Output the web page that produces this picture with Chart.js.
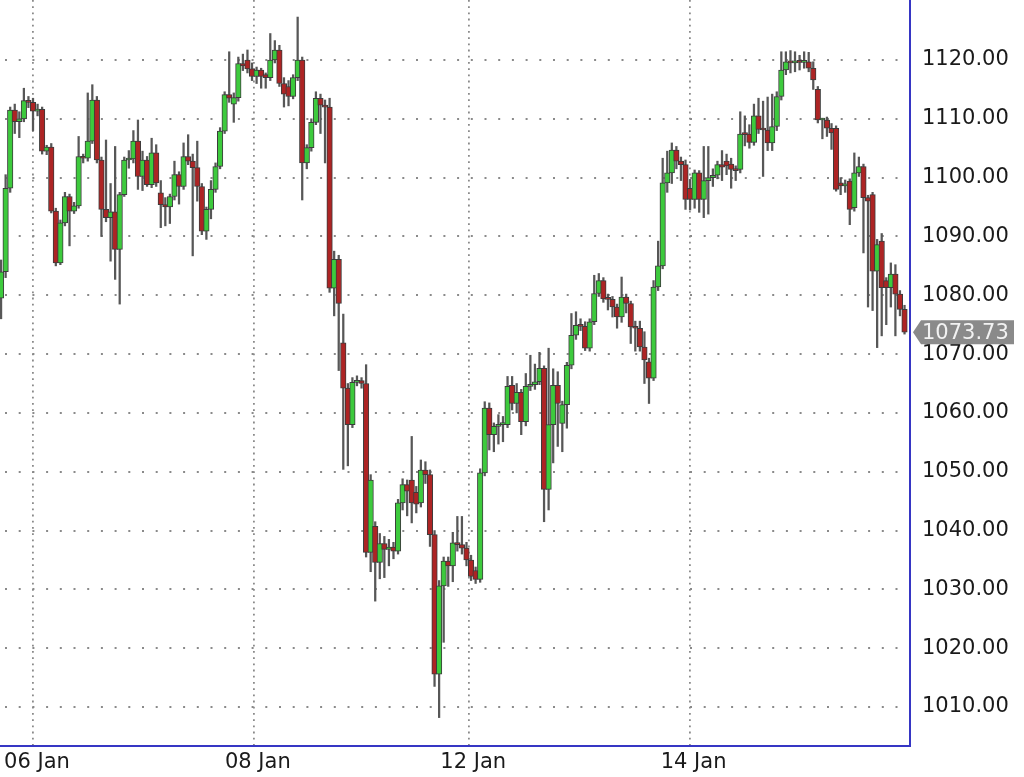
<!DOCTYPE html>
<html>
<head>
<meta charset="utf-8">
<script src="https://cdn.jsdelivr.net/npm/chart.js@4.4.1/dist/chart.umd.min.js"></script>
<style>
  html, body { margin: 0; padding: 0; background: #fff; overflow: hidden; }
  #wrap { position: relative; width: 1024px; height: 777px; }
</style>
</head>
<body>
<div id="wrap"><canvas id="chart"></canvas></div>
<script>
// Hourly candles (index 0 = first visible bar)
const openPrices = [
  1079.5, 1084, 1098.2, 1111.5, 1109.5, 1110, 1113.1, 1112.8, 1111.3, 1111.6,
  1104.5, 1105.2, 1094.3, 1085.5, 1092.3, 1096.8, 1094.3, 1095.2, 1103.6, 1103.3,
  1106.2, 1113.2, 1103, 1094.6, 1093.2, 1094.2, 1087.8, 1097.1, 1103, 1103.2,
  1106.2, 1100.2, 1103, 1098.8, 1104.2, 1097.4, 1095.4, 1095.0, 1096.8, 1100.5,
  1098.5, 1103.6, 1102.8, 1101.7, 1098.5, 1090.9, 1094.6, 1098, 1101.9, 1107.9,
  1114.1, 1112.5, 1113.6, 1119.4, 1120, 1118.5, 1117.2, 1118.3, 1117.5, 1117.0,
  1120, 1121.7, 1116, 1115.5, 1113.8, 1117, 1120, 1102.5, 1105.1, 1109.4,
  1113.5, 1112.3, 1112.0, 1081.2, 1086.1, 1071.9, 1064.2, 1058, 1065.2, 1065.5,
  1065, 1036.3, 1040.7, 1034.6, 1037.8, 1036.8, 1037.2, 1036.5, 1044.7, 1047.8,
  1048.6, 1046.5, 1044.7, 1050.3, 1049.5, 1039.3, 1015.6, 1030.6, 1034.8, 1034,
  1037.9, 1037.6, 1037, 1035, 1033.2, 1031.7, 1049.8, 1060.8, 1056.3, 1057.7,
  1058, 1058, 1064.7, 1061.6, 1063.5, 1058.5, 1064.5, 1064.8, 1065.3, 1067.6,
  1047, 1058, 1064.7, 1058.2, 1061.4, 1068.1, 1073.2, 1074.9, 1074.7, 1071,
  1075.5, 1080.3, 1082.5, 1079.4, 1079.3, 1078, 1076.3, 1079.7, 1078.6, 1074.6,
  1074.4, 1071.2, 1068.7, 1065.9, 1081.4, 1085, 1099.1, 1100.8, 1104.7, 1102.8,
  1102.2, 1098.2, 1096.3, 1100.8, 1096.3, 1099.5, 1100, 1100.4, 1102.2, 1102.8,
  1102.3, 1101.4, 1101.4, 1107.4, 1107.4, 1106, 1110.5, 1108.2, 1108.1, 1105.9,
  1108.7, 1113.8, 1118.3, 1119.7, 1119.5, 1119.8, 1119.6, 1119.7, 1118.6, 1115,
  1109.8, 1109.8, 1108.4, 1108.4, 1099.1, 1098.6, 1099.4, 1094.9, 1100.8, 1101.9,
  1096.6, 1097.1, 1084.1, 1089.2, 1082.5, 1081.3, 1083.6, 1080.2, 1077.6
];
const highPrices = [
  1086, 1100.5, 1112, 1112.5, 1111.2, 1115.2, 1113.8, 1113.5, 1112.5, 1112,
  1105.5, 1105.8, 1094.8, 1092.8, 1097.5, 1097.2, 1095.8, 1107, 1104, 1114.4,
  1115.8, 1113.8, 1103.5, 1106.4, 1099, 1105.3, 1097.5, 1103.5, 1104.6, 1108,
  1109.8, 1104.5, 1103.6, 1106.7, 1105.6, 1099.5, 1096.6, 1097.2, 1102.8, 1101,
  1105.9, 1107.3, 1104, 1106.2, 1099, 1095, 1099.5, 1102.5, 1108.5, 1114.6,
  1121.4, 1114.4, 1120.5, 1121, 1121.7, 1119.5, 1118.8, 1118.6, 1117.8, 1124.5,
  1123.3, 1122.5, 1117, 1116.5, 1117.5, 1127.3, 1120.5, 1105.6, 1110, 1114.6,
  1114.2, 1113.2, 1113.5, 1087.5, 1086.8, 1076.8, 1065, 1066, 1066.3, 1066,
  1068.2, 1049.5, 1041.5, 1039.5, 1039, 1038.5, 1038, 1045.3, 1048.8, 1048.6,
  1056, 1047.5, 1052, 1051.7, 1050.3, 1040, 1031.5, 1035.5, 1035.5, 1039.7,
  1042.4, 1042.4, 1038, 1035.8, 1033.8, 1050.5, 1061.9, 1061.7, 1058.3, 1059.7,
  1059.4, 1066.2, 1066.2, 1065, 1064, 1066.7, 1069.8, 1068.3, 1070.3, 1068,
  1071, 1067.5, 1067, 1062, 1068.6, 1076.9, 1077.2, 1076, 1075.5, 1076,
  1083.4, 1083.7, 1083, 1080.2, 1079.8, 1078.5, 1083.1, 1080.2, 1079, 1075.6,
  1075.6, 1073.8, 1069.3, 1082.5, 1089.2, 1103.3, 1104.5, 1105.9, 1105.3, 1103.5,
  1103, 1099.7, 1101.3, 1101.2, 1105.3, 1105.3, 1101.5, 1102.8, 1104.6, 1104,
  1103.3, 1102, 1111.2, 1110.5, 1109, 1112.5, 1113.5, 1113, 1113.7, 1114.2,
  1114.6, 1121.4, 1121.4, 1121.6, 1121.4, 1120.8, 1121.4, 1121.3, 1119.7, 1115.5,
  1110.1, 1110.3, 1109.2, 1108.8, 1100, 1099.6, 1099.8, 1104.2, 1103.5, 1102.3,
  1097, 1097.5, 1089.5, 1090.5, 1083, 1085.5, 1085.2, 1080.8, 1078.3
];
const lowPrices = [
  1076, 1083, 1097.5, 1107.5, 1106.8, 1109.5, 1111.9, 1108, 1110.5, 1104,
  1103.9, 1094, 1085, 1085.2, 1091.8, 1088.4, 1093.9, 1094.8, 1102.5, 1102.8,
  1105.8, 1102.5, 1090, 1092.5, 1085.8, 1082.7, 1078.5, 1096.8, 1101.6, 1102.5,
  1098, 1097.8, 1098.5, 1098.3, 1098.5, 1091.5, 1091.8, 1092.2, 1096.2, 1095.5,
  1098, 1102.2, 1086.7, 1096, 1090.3, 1089.5, 1093, 1097.5, 1101.5, 1107.5,
  1112.8, 1109.4, 1113, 1118.2, 1117.8, 1116.5, 1116, 1115.2, 1115.2, 1116.5,
  1119.5, 1115.5, 1112, 1112.2, 1113.4, 1116.5, 1096.2, 1101.5, 1104.5, 1109,
  1107.5, 1102.5, 1080.5, 1076.5, 1067.2, 1050.4, 1051, 1057.5, 1064.6, 1064.2,
  1035.5, 1033, 1028, 1031.8, 1032, 1034, 1035.2, 1036, 1043.5, 1042.5,
  1041.3, 1043, 1044, 1048, 1037.3, 1013.5, 1008.2, 1021, 1030.5, 1031.3,
  1036.5, 1036, 1034, 1031.5, 1031, 1031.2, 1049.3, 1053.7, 1053.4, 1054.7,
  1055.1, 1057.5, 1060.5, 1060, 1056.3, 1057.8, 1063.8, 1064, 1064.8, 1041.5,
  1043.5, 1051.5, 1054.3, 1053.4, 1057.4, 1067.5, 1072.5, 1074, 1070.6, 1070.5,
  1075, 1079.8, 1078.8, 1077.5, 1076.3, 1074.4, 1075.4, 1077, 1071.8, 1070.5,
  1070.5, 1065, 1061.6, 1065.5, 1080.8, 1084.5, 1097.5, 1099, 1101.5, 1099.5,
  1094.6, 1094.5, 1094.8, 1094.1, 1093.2, 1093.8, 1098.5, 1099.8, 1099.5, 1100.5,
  1098.2, 1099.5, 1100.8, 1105.4, 1105, 1105.5, 1107.5, 1100.2, 1104.6, 1104.6,
  1108, 1113.2, 1117.5, 1117.8, 1118, 1118.3, 1118.6, 1118, 1115, 1109.3,
  1106.6, 1107, 1104.8, 1097.7, 1097.1, 1097.5, 1092, 1094.3, 1100.2, 1087.2,
  1078, 1077.4, 1071.1, 1073.1, 1075, 1078, 1073.1, 1076.5, 1073.4
];
const closePrices = [
  1084, 1098.2, 1111.5, 1109.5, 1110, 1113.1, 1112.8, 1111.3, 1111.6, 1104.5,
  1105.2, 1094.3, 1085.5, 1092.3, 1096.8, 1094.3, 1095.2, 1103.6, 1103.3, 1106.2,
  1113.2, 1103, 1094.6, 1093.2, 1094.2, 1087.8, 1097.1, 1103, 1103.2, 1106.2,
  1100.2, 1103, 1098.8, 1104.2, 1099.1, 1095.4, 1095.0, 1096.8, 1100.5, 1098.5,
  1103.6, 1102.8, 1101.7, 1098.5, 1090.9, 1094.6, 1098, 1101.9, 1107.9, 1114.1,
  1113.5, 1113.6, 1119.4, 1119, 1118.5, 1117.2, 1118.3, 1117.2, 1117.0, 1120,
  1121.7, 1116, 1114.2, 1113.8, 1117, 1120, 1102.5, 1105.1, 1109.4, 1113.5,
  1112.3, 1112.0, 1081.2, 1086.1, 1078.6, 1064.2, 1058, 1065.2, 1065.5, 1065.0,
  1036.3, 1048.6, 1034.6, 1037.8, 1036.8, 1037.2, 1036.5, 1044.7, 1047.8, 1046.7,
  1044.7, 1044.5, 1050.3, 1049.5, 1039.3, 1015.6, 1030.6, 1034.8, 1034.0, 1037.9,
  1037.6, 1037, 1035, 1032.2, 1031.7, 1049.8, 1060.8, 1056.3, 1057.7, 1058,
  1058.2, 1064.5, 1061.6, 1063.5, 1058.5, 1064.5, 1064.8, 1065.3, 1067.6, 1047,
  1058, 1064.7, 1061.6, 1061.4, 1068.1, 1073.2, 1074.9, 1074.7, 1071, 1075.5,
  1080.3, 1082.5, 1079.4, 1079.3, 1078, 1076.3, 1079.7, 1078.6, 1074.6, 1074.4,
  1071.2, 1069, 1065.9, 1081.4, 1085, 1099.1, 1100.8, 1104.7, 1102.8, 1102.2,
  1096.3, 1096.3, 1100.8, 1096.3, 1099.5, 1100, 1100.4, 1102.2, 1101.8, 1102,
  1101.4, 1101.2, 1107.4, 1107.3, 1106, 1110.5, 1108.2, 1108.1, 1105.9, 1108.7,
  1113.8, 1118.3, 1119.7, 1119.5, 1119.8, 1119.6, 1119.7, 1118.6, 1116.6, 1109.8,
  1109.9, 1108.4, 1107.6, 1098, 1098.6, 1098.8, 1094.6, 1100.8, 1101.9, 1096.6,
  1096.0, 1084.1, 1088.6, 1081.3, 1081.3, 1083.6, 1080.2, 1077.6, 1073.73
];

// x axis: day boundaries (bar index) and their labels
const dayTickIdx = [7, 55.4, 102.6, 150.9];
const dayTickLabels = ['06 Jan', '08 Jan', '12 Jan', '14 Jan'];
// y axis ticks
const priceTicks = [1010, 1020, 1030, 1040, 1050, 1060, 1070, 1080, 1090, 1100, 1110, 1120];
const lastPrice = closePrices[closePrices.length - 1];

const UP = '#3dca3d';
const DOWN = '#ad2424';
const EDGE = '#3c3c3c';
const WICK = '#575757';
const AXIS_BLUE = '#3636c4';
const FONT = { family: 'DejaVu Sans', size: 21 };

const bodies = openPrices.map((o, i) => ({ x: i, y: [o, closePrices[i]] }));
const wicks = highPrices.map((h, i) => ({ x: i, y: [lowPrices[i], h] }));

// grey tag with the last price on the right axis
const lastPriceTag = {
  id: 'lastPriceTag',
  afterDraw(chart) {
    const { ctx, chartArea } = chart;
    const y = chart.scales.y.getPixelForValue(lastPrice);
    const x0 = chartArea.right + 3;
    const x1 = chart.width - 10;
    ctx.save();
    ctx.fillStyle = '#8a8a8a';
    ctx.beginPath();
    ctx.moveTo(x0, y);
    ctx.lineTo(x0 + 8, y - 12);
    ctx.lineTo(x1, y - 12);
    ctx.lineTo(x1, y + 12);
    ctx.lineTo(x0 + 8, y + 12);
    ctx.closePath();
    ctx.fill();
    ctx.fillStyle = '#f2f2f2';
    ctx.font = FONT.size + 'px ' + FONT.family;
    ctx.textBaseline = 'middle';
    ctx.textAlign = 'left';
    ctx.fillText(lastPrice.toFixed(2), chartArea.right + 12, y + 1);
    ctx.restore();
  }
};

new Chart(document.getElementById('chart'), {
  type: 'bar',
  data: {
    datasets: [
      {
        data: bodies,
        grouped: false,
        barThickness: 5.5,
        minBarLength: 2,
        borderWidth: 1,
        borderSkipped: false,
        borderColor: EDGE,
        backgroundColor: c => (closePrices[c.dataIndex] >= openPrices[c.dataIndex] ? UP : DOWN)
      },
      {
        data: wicks,
        grouped: false,
        barThickness: 1.6,
        borderWidth: 0,
        backgroundColor: WICK
      }
    ]
  },
  options: {
    responsive: true,
    maintainAspectRatio: false,
    animation: false,
    devicePixelRatio: 1,
    layout: { padding: 0 },
    plugins: { legend: { display: false }, tooltip: { enabled: false } },
    scales: {
      x: {
        type: 'linear',
        min: -0.233,
        max: 199.2,
        bounds: 'data',
        offset: false,
        afterBuildTicks: s => { s.ticks = dayTickIdx.map(v => ({ value: v })); },
        afterFit: s => { s.height = 31; s.paddingLeft = 0; s.paddingRight = 0; },
        grid: { color: '#8a8a8a', lineWidth: 1.8, drawTicks: false, offset: false },
        border: { color: AXIS_BLUE, width: 2, dash: [1.8, 4.4] },
        ticks: {
          color: '#1a1a1a',
          font: FONT,
          padding: 4,
          labelOffset: 4,
          maxRotation: 0,
          autoSkip: false,
          callback: (v, i) => dayTickLabels[i]
        }
      },
      y: {
        position: 'right',
        min: 1003.37,
        max: 1130.2,
        bounds: 'data',
        afterBuildTicks: s => { s.ticks = priceTicks.map(v => ({ value: v })); },
        afterFit: s => { s.width = 114; s.paddingTop = 0; s.paddingBottom = 0; },
        grid: { color: '#8a8a8a', lineWidth: 2, drawTicks: false },
        border: { color: AXIS_BLUE, width: 2, dash: [2, 11.7], dashOffset: 8.7 },
        ticks: {
          color: '#1a1a1a',
          font: FONT,
          padding: 12,
          callback: v => Number(v).toFixed(2)
        }
      }
    }
  },
  plugins: [lastPriceTag]
});
</script>
</body>
</html>
